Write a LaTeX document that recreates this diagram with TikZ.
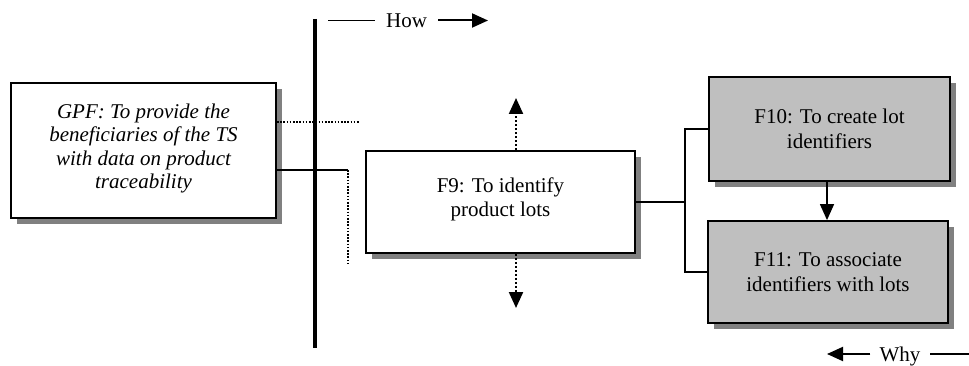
\documentclass[tikz,border=0pt]{standalone}
\usepackage{fontspec}
\setmainfont{Liberation Serif}
\usetikzlibrary{arrows.meta,shadows}
\begin{document}
\begin{tikzpicture}[x=1pt,y=-1pt,
    every node/.style={font=\fontsize{21}{24.5}\selectfont},
    fbox/.style={draw,line width=1.8pt,fill=white,align=center,inner sep=0pt,
        drop shadow={shadow xshift=6pt,shadow yshift=-6pt,fill=black!50,opacity=1}},
    gbox/.style={fbox,fill=black!25},
    conn/.style={line width=1.4pt},
    dots/.style={line width=1.6pt,dash pattern=on 1.6pt off 1.6pt},
    tip/.style={-{Triangle[length=16pt,width=14pt]}}]
    \useasboundingbox (0,0) rectangle (969,366);
    \node[fbox,minimum width=265pt,minimum height=135pt,font=\fontsize{21}{23.3}\selectfont\itshape] (gpf) at (143.5,150.5){GPF: To provide the\\beneficiaries of the TS\\with data on product\\traceability\\[-15pt]};
    \node[fbox,minimum width=269pt,minimum height=102pt] (f9) at (500.5,202){F9: To identify\\product lots\\[-15pt]};
    \node[gbox,minimum width=241pt,minimum height=104pt] (f10) at (829.5,129){F10: To create lot\\identifiers};
    \node[gbox,minimum width=240pt,minimum height=102pt] (f11) at (828,272){F11: To associate\\identifiers with lots};
    \coordinate (dotend) at (360,122);
    \coordinate (bend) at (348,170);
    \coordinate (dropend) at (348,263);
    \coordinate (brk) at (685,202);
    \draw[dots,line width=1.3pt] (gpf.east |- dotend) -- (dotend);
    \draw[conn] (gpf.east |- bend) -- (bend);
    \draw[dots] (bend) -- (dropend);
    \foreach \side/\tipy in {north/98,south/308}
    {
    \coordinate (f9\side) at (516,\tipy);
    \draw[dots,line width=2.2pt,dash pattern=on 2.2pt off 1.8pt,tip] (f9.\side -| f9\side) -- (f9\side);
    }
    \draw[conn] (f9.east) -- (brk);
    \draw[conn] (f10.west) -| (brk) |- (f11.west);
    \coordinate (f10down) at (827,181);
    \draw[conn,tip] (f10down) -- (f10down |- f11.north);
    \draw[line width=4.5pt] (315,19) coordinate (axtop) -- (315,348) coordinate (axbot);
    \node[inner xsep=11pt,inner ysep=0pt] (how) at (406.5,20.5){How};
    \coordinate (howstart) at (328,20.5);
    \coordinate (howend) at (488,20.5);
    \draw[conn] (howstart) -- (how.west);
    \draw[conn,line width=2pt,tip] (how.east) -- (howend);
    \node[inner xsep=9pt,inner ysep=0pt,text depth=0pt] (why) at (900,354){Why};
    \coordinate (whyend) at (827,354);
    \coordinate (whystart) at (969,354);
    \draw[conn] (whystart) -- (why.east);
    \draw[conn,line width=2pt,tip] (why.west) -- (whyend);
\end{tikzpicture}
\end{document}
